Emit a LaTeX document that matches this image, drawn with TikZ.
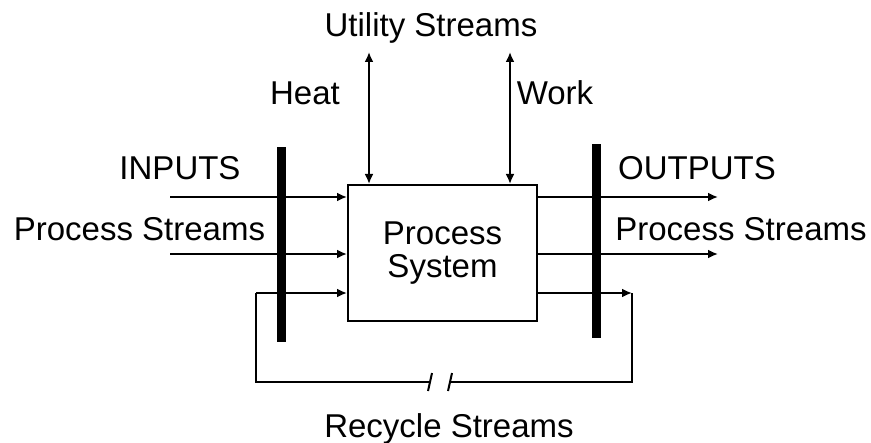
\documentclass[tikz,border=0pt]{standalone}
\usepackage{fontspec}
\setmainfont{Liberation Sans}
\usetikzlibrary{arrows.meta,positioning,calc}

\begin{document}
\begin{tikzpicture}[
    x=0.5pt, y=-0.5pt,
    label/.style={font=\fontsize{16.5}{16.3}\selectfont, inner sep=0pt, anchor=base},
    sysbox/.style={rectangle, draw, line width=1pt, minimum width=94.5pt, minimum height=68pt, inner sep=0pt, align=center, font=\fontsize{16.5}{16.3}\selectfont},
    bar/.style={rectangle, fill=black, minimum width=4.5pt, inner sep=0pt},
    stream/.style={line width=1pt},
    arrow/.style={stream, -{Latex[length=5pt,width=4.5pt]}},
    twoway/.style={stream, {Latex[length=5pt,width=4.5pt]}-{Latex[length=5pt,width=4.5pt]}}
]
\useasboundingbox (0,0) rectangle (871,443);

% Process system and the two boundary bars
\node[sysbox] (sys) at (442.5,253) {Process\\System};
\node[bar, minimum height=97.5pt] (lbar) at (281,244.5) {};
\node[bar, minimum height=97pt] (rbar) at (596,241) {};

% Free ends of the streams
\coordinate (in1) at (170,197);
\coordinate (in2) at (170,254);
\coordinate (out1) at (718,197);
\coordinate (out2) at (718,254);
\coordinate (heat) at (369,52);
\coordinate (work) at (510,52);
\coordinate (recA) at (632,293);
\coordinate (recB) at (632,382);
\coordinate (brkR) at (450,382);
\coordinate (brkL) at (430,382);
\coordinate (recC) at (256,382);
\coordinate (recD) at (256,293);

% Process streams in and out
\draw[arrow] (in1) -- (in1 -| sys.west);
\draw[arrow] (in2) -- (in2 -| sys.west);
\draw[arrow] (out1 -| sys.east) -- (out1);
\draw[arrow] (out2 -| sys.east) -- (out2);

% Utility streams
\draw[twoway] (heat) -- (heat |- sys.north);
\draw[twoway] (work) -- (work |- sys.north);

% Recycle loop with break
\draw[arrow] (recA -| sys.east) -- (recA);
\draw[stream] (recA) -- (recB) -- (brkR);
\draw[stream] (brkL) -- (recC) -- (recD);
\draw[arrow] (recD) -- (recD -| sys.west);
\draw[stream] ($(brkL)+(2,-9)$) -- ($(brkL)+(-2,9)$);
\draw[stream] ($(brkR)+(2,-9)$) -- ($(brkR)+(-2,9)$);

% Labels
\node[label] (utility) at (431,37) {Utility Streams};
\node[label] (heatlbl) at (305,105) {Heat};
\node[label] (worklbl) at (555,105) {Work};
\node[label] (inputs) at (180,180) {INPUTS};
\node[label] (instreams) at (139.5,240) {Process Streams};
\node[label] (outputs) at (697,180) {OUTPUTS};
\node[label] (outstreams) at (741,240) {Process Streams};
\node[label] (recycle) at (449,437) {Recycle Streams};

\end{tikzpicture}
\end{document}
